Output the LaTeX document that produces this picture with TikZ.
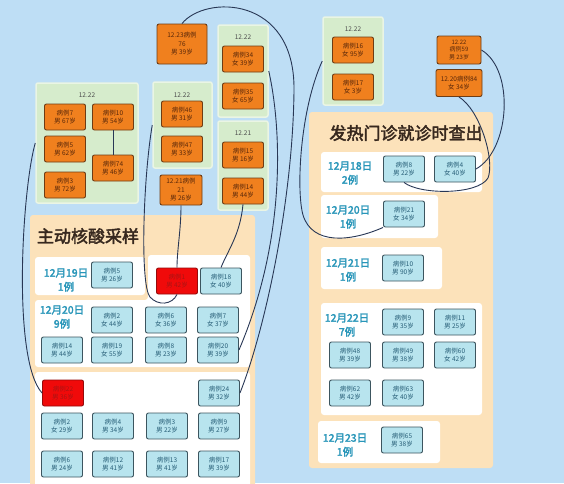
\documentclass[tikz,border=0pt]{standalone}
\usepackage{fontspec}
\setmainfont{Noto Sans CJK SC}[AutoFakeBold=2.5]
\definecolor{bgblue}{RGB}{190,222,245}
\definecolor{peach}{RGB}{252,226,186}
\definecolor{grpgreen}{RGB}{214,236,204}
\definecolor{grpedge}{RGB}{234,245,228}
\definecolor{caseblue}{RGB}{184,228,238}
\definecolor{caseedge}{RGB}{60,85,95}
\definecolor{casetext}{RGB}{40,95,120}
\definecolor{srcorange}{RGB}{240,128,30}
\definecolor{srcedge}{RGB}{110,60,20}
\definecolor{srctext}{RGB}{90,40,10}
\definecolor{hitred}{RGB}{240,10,10}
\definecolor{hitedge}{RGB}{150,10,10}
\definecolor{hittext}{RGB}{170,20,20}
\definecolor{datecol}{RGB}{40,150,185}
\definecolor{headcol}{RGB}{55,40,30}
\definecolor{connnavy}{RGB}{40,55,85}
\begin{document}
\begin{tikzpicture}[x=1pt, y=-1pt,
    box/.style={draw, rounded corners=2pt, line width=0.9pt, align=center, inner sep=0pt,
      minimum width=41pt, minimum height=26pt, font=\fontsize{6.5}{8.5}\selectfont},
    case/.style={box, fill=caseblue, draw=caseedge, text=casetext},
    src/.style={box, fill=srcorange, draw=srcedge, text=srctext},
    hit/.style={box, fill=hitred, draw=hitedge, text=hittext},
    grp/.style={fill=grpgreen, draw=grpedge, line width=1.5pt, rounded corners=2pt, inner sep=0pt},
    grplabel/.style={font=\fontsize{6.5}{8}\selectfont, text=black!70},
    daylabel/.style={align=center, text=datecol, font=\fontsize{10.5}{14}\selectfont\bfseries},
    headline/.style={text=headcol, font=\fontsize{17}{20}\selectfont\bfseries},
    conn/.style={draw=connnavy, line width=0.9pt}
  ]
  \useasboundingbox (0,0) rectangle (564,483);
  \clip (0,0) rectangle (564,483);
  \fill[bgblue] (0,0) rectangle (564,483);
  % big panels
  \fill[peach, rounded corners=3pt] (30,215) rectangle (255,495);
  \fill[peach, rounded corners=3pt] (309,112) rectangle (493,468);
  \node[headline] (leftHead) at (88,236) {主动核酸采样};
  \node[headline] (rightHead) at (406,133) {发热门诊就诊时查出};
  % white day rows
  \fill[white, rounded corners=3pt] (35,257) rectangle (145,295);
  \fill[white, rounded corners=3pt] (35,300) -- (148,300) -- (148,255) -- (250,255)
    -- (250,367) -- (35,367) -- cycle;
  \fill[white, rounded corners=3pt] (35,372) rectangle (250,495);
  \fill[white, rounded corners=3pt] (321,152) rectangle (482,192);
  \fill[white, rounded corners=3pt] (321,195) rectangle (438,238);
  \fill[white, rounded corners=3pt] (321,247) rectangle (442,289);
  \fill[white, rounded corners=3pt] (321,303) rectangle (482,415);
  \fill[white, rounded corners=3pt] (318,421) rectangle (440,463);
  \node[daylabel] (d19) at (66,280) {12月19日\\1例};
  \node[daylabel] (d20) at (62,317) {12月20日\\9例};
  \node[daylabel] (e18) at (350,173) {12月18日\\2例};
  \node[daylabel] (e20) at (348,217) {12月20日\\1例};
  \node[daylabel] (e21) at (348,270) {12月21日\\1例};
  \node[daylabel] (e22) at (347,325) {12月22日\\7例};
  \node[daylabel] (e23) at (345,445) {12月23日\\1例};
  % green groups
  \node[grp, minimum width=102pt, minimum height=120pt] (gA) at (87,143) {};
  \node[grp, minimum width=59pt, minimum height=86pt] (gB) at (182.5,125) {};
  \node[grp, minimum width=50pt, minimum height=92pt] (gC) at (243,71) {};
  \node[grp, minimum width=50pt, minimum height=89pt] (gD) at (243,165.5) {};
  \node[grp, minimum width=60pt, minimum height=88pt] (gE) at (353,61) {};
  \node[grplabel] at (87,95) {12.22};
  \node[grplabel] at (182,95) {12.22};
  \node[grplabel] at (243,37) {12.22};
  \node[grplabel] at (243,133) {12.21};
  \node[grplabel] at (353,29) {12.22};
  % cases
  \foreach \nm/\x/\y/\id/\info in {c5/112/275/5/男 26岁, c18/221/281/18/女 40岁,
      c2/112/320/2/女 44岁, c6/166/320/6/女 36岁, c7/218/320/7/女 37岁,
      c14/62/350/14/男 44岁, c19/112/350/19/女 55岁, c8/166/350/8/男 23岁, c20/218/350/20/男 39岁,
      c24/219/393/24/男 32岁,
      c2b/62/426/2/女 29岁, c4/113/426/4/男 34岁, c3/167/426/3/男 22岁, c9/219/426/9/男 27岁,
      c6b/62/464/6/男 24岁, c12/113/464/12/男 41岁, c13/167/464/13/男 41岁, c17/219/464/17/男 39岁,
      f8/404/169/8/男 22岁, f4/455/169/4/女 40岁, f21/404/214/21/女 34岁, f10/403/268/10/男 90岁,
      f9/403/322/9/男 35岁, f11/455/322/11/男 25岁,
      f48/350/355/48/男 39岁, f49/403/355/49/男 38岁, f60/455/355/60/女 42岁,
      f62/350/393/62/男 42岁, f63/403/393/63/女 40岁, f65/402/440/65/男 38岁}
    \node[case] (\nm) at (\x,\y) {病例\id\\\info};
  \foreach \nm/\x/\y/\id/\info in {o7/65/117/7/男 67岁, o10/113/117/10/男 54岁,
      o5/65/149/5/男 62岁, o74/113/168/74/男 46岁, o3/65/185/3/男 72岁,
      o46/182/114/46/男 31岁, o47/182/149/47/男 33岁,
      o34/243/59/34/女 39岁, o35/243/96/35/女 65岁,
      o15/243/155/15/男 16岁, o14/243/191/14/男 44岁,
      o16/353/50/16/女 95岁, o17/353/87/17/女 3岁}
    \node[src] (\nm) at (\x,\y) {病例\id\\\info};
  \node[src, minimum width=50pt, minimum height=40pt] (o76) at (182,44) {12.23病例\\76\\男 39岁};
  \node[src, minimum width=42pt, minimum height=30pt] (o21) at (181,190) {12.21病例\\21\\男 26岁};
  \node[src, minimum width=44pt, minimum height=28pt, font=\fontsize{6}{7.5}\selectfont] (o59) at (459,50) {12.22\\病例59\\男 23岁};
  \node[src, minimum width=46pt, minimum height=27pt] (o84) at (459,83) {12.20病例84\\女 34岁};
  \node[hit] (r1) at (177,281) {病例1\\男 42岁};
  \node[hit] (r22) at (63,393) {病例22\\男 36岁};
  % links
  \draw[conn] (o10.south) -- (o74.north);
  \draw[conn] (o76.north) .. controls (205,-5) and (295,-5) .. (294,90)
    .. controls (293,200) and (265,330) .. (c24.east);
  \draw[conn] (gC.east) .. controls (282,130) and (286,240) .. (c20.east);
  \draw[conn] (gE.west) .. controls (300,110) and (296,190) .. (303,215)
    .. controls (312,245) and (350,242) .. (f21.south west);
  \draw[conn] (o14.south) .. controls (240,235) and (228,250) .. (c18.north);
  \draw[conn] (o21.south) .. controls (181,230) and (177,250) .. (r1.north);
  \draw[conn] (gB.west) .. controls (143,180) and (140,285) .. (150,297)
    .. controls (158,306) and (172,305) .. (r1.south);
  \draw[conn] (gA.west) .. controls (22,190) and (12,360) .. (r22.west);
  \draw[conn] (o59.east) .. controls (515,70) and (510,150) .. (f4.east);
  \draw[conn] (o84.south) .. controls (480,110) and (495,160) .. (488,178)
    .. controls (478,195) and (420,195) .. (f8.south);
\end{tikzpicture}
\end{document}
